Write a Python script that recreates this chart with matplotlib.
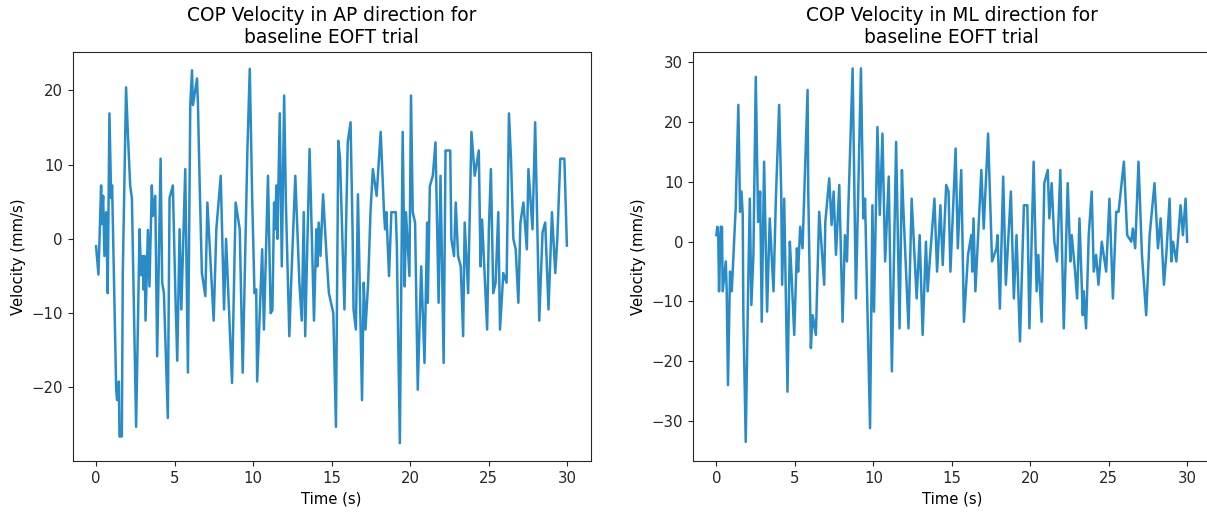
import matplotlib
matplotlib.use("Agg")
import matplotlib.pyplot as plt

# Velocidad del COP en direccion AP (puntos de giro)
t_ap = [0, 0.15, 0.32, 0.36, 0.45, 0.53, 0.64, 0.74, 0.85, 0.96, 1.02, 1.17, 1.28, 1.34, 1.45, 1.49,
        1.64, 1.70, 1.91, 2.02, 2.17, 2.28, 2.55, 2.77, 2.87, 2.98, 3.02, 3.09, 3.15, 3.30, 3.40, 3.55,
        3.62, 3.77, 3.89, 4.11, 4.21, 4.32, 4.57, 4.68, 4.89, 5.06, 5.17, 5.32, 5.43, 5.68, 5.85, 6.00,
        6.11, 6.17, 6.43, 6.49, 6.60, 6.74, 6.96, 7.09, 7.49, 7.66, 7.94, 8.15, 8.28, 8.66, 8.89, 9.15,
        9.34, 9.64, 9.79, 9.94, 10.09, 10.20, 10.26, 10.58, 10.69, 10.95, 11.12, 11.23, 11.34, 11.40,
        11.49, 11.55, 11.70, 11.83, 11.98, 12.09, 12.31, 12.41, 12.69, 12.95, 13.10, 13.23, 13.32, 13.60,
        13.88, 14.03, 14.09, 14.18, 14.29, 14.46, 14.68, 14.83, 15.11, 15.28, 15.43, 15.54, 15.82, 16.03,
        16.21, 16.34, 16.40, 16.55, 16.68, 16.94, 17.05, 17.16, 17.33, 17.48, 17.63, 17.87, 18.13, 18.34,
        18.41, 18.49, 18.66, 18.81, 19.09, 19.16, 19.20, 19.35, 19.53, 19.66, 19.74, 19.96, 20.06, 20.17,
        20.32, 20.49, 20.71, 20.92, 21.09, 21.13, 21.26, 21.45, 21.62, 21.82, 21.94, 22.14, 22.26, 22.56,
        22.63, 22.80, 22.91, 23.06, 23.23, 23.38, 23.48, 23.70, 23.91, 24.12, 24.38, 24.49, 24.59, 24.91,
        25.02, 25.15, 25.30, 25.45, 25.62, 25.73, 25.94, 26.15, 26.30, 26.43, 26.58, 26.73, 26.90, 27.03,
        27.22, 27.44, 27.54, 27.80, 27.97, 28.23, 28.44, 28.61, 28.82, 29.04, 29.25, 29.38, 29.57, 29.83,
        29.99]
v_ap = [-1.0, -4.8, 7.2, 2.0, 5.8, -2.3, 3.6, -7.3, 16.9, 5.5, 7.2, -8.6, -20.3, -21.7, -19.2, -26.6,
        -26.6, -4.8, 20.4, 14.4, 7.2, 5.5, -25.3, 1.3, -4.9, -2.3, -6.8, -2.3, -11.0, 1.2, -6.4, 7.2,
        3.1, 5.8, -15.8, 10.8, -5.9, -7.3, -24.1, 5.5, 7.2, -8.2, -16.4, 1.3, -9.5, 9.4, -18.0, 18.0,
        22.7, 18.0, 21.6, 18.0, 7.2, -4.6, -7.7, 4.9, -11.0, 1.3, 8.5, -9.5, 0.0, -19.4, 4.9, 1.3,
        -18.0, 12.1, 22.9, 5.8, -7.3, -6.8, -19.2, -1.4, -12.2, 8.5, -10.0, -9.6, 4.9, 1.3,
        7.2, 0.0, 16.9, -3.7, 19.3, 4.9, -13.1, -6.8, 8.5, -5.9, -11.0, 3.6, -13.1, 12.1,
        -11.0, 1.3, -3.7, 2.2, -2.3, 6.0, -2.3, -7.3, -10.0, -25.3, 13.2, 10.8, -9.5, 13.0,
        15.7, 0.9, -9.5, -12.2, 6.0, -21.7, -5.9, -12.2, -5.9, 3.6, 9.4, 5.8, 14.4, 3.6,
        1.3, 3.6, -5.0, 3.6, 3.6, -1.0, -7.3, -27.5, 14.4, -6.4, 3.6, -5.0, 19.3, 3.6,
        2.2, -20.3, -3.7, -16.7, 2.2, -8.6, 7.1, 8.5, 13.0, -8.6, 8.5, -16.7, 11.9, 11.9,
        0.0, -2.3, 4.9, -2.3, -3.7, -13.1, 2.2, -7.3, 14.4, 8.5, 11.9, -3.7, 2.6, -12.2,
        1.3, 9.4, -7.3, -5.9, 3.6, -12.2, -4.6, -5.9, 16.9, 10.8, 0.0, -1.4, -8.6, 2.2,
        4.9, -1.4, 9.4, 1.3, 15.7, -11.0, 0.9, 2.2, -9.5, 3.6, -4.6, 0.0, 10.8, 10.8,
        -0.9]

# Velocidad del COP en direccion ML
t_ml = [0, 0.06, 0.12, 0.17, 0.28, 0.36, 0.40, 0.60, 0.66, 0.74, 0.87, 0.98, 1.23, 1.40, 1.51, 1.60,
        1.68, 1.72, 1.87, 2.02, 2.13, 2.23, 2.36, 2.51, 2.66, 2.79, 2.89, 3.04, 3.23, 3.40, 3.64, 3.79,
        4.00, 4.13, 4.19, 4.32, 4.53, 4.68, 4.79, 4.96, 5.13, 5.21, 5.34, 5.49, 5.81, 5.85, 6.02, 6.13,
        6.34, 6.55, 6.87, 6.94, 7.19, 7.34, 7.47, 7.62, 7.83, 8.04, 8.19, 8.32, 8.40, 8.68, 8.89, 9.21,
        9.36, 9.47, 9.79, 9.94, 10.04, 10.26, 10.41, 10.58, 10.75, 10.98, 11.18, 11.45, 11.67, 11.82,
        11.92, 12.24, 12.44, 12.76, 12.95, 13.14, 13.35, 13.46, 13.59, 13.89, 14.06, 14.27, 14.42, 14.64,
        14.79, 14.91, 15.24, 15.38, 15.60, 15.77, 16.03, 16.24, 16.30, 16.38, 16.50, 16.88, 17.03, 17.31,
        17.56, 17.84, 17.91, 18.06, 18.27, 18.44, 18.76, 18.95, 19.12, 19.34, 19.59, 19.81, 19.94, 20.21,
        20.40, 20.51, 20.72, 20.89, 21.11, 21.21, 21.36, 21.53, 21.70, 21.91, 22.13, 22.38, 22.55, 22.64,
        22.85, 22.98, 23.13, 23.34, 23.40, 23.55, 23.72, 23.91, 24.04, 24.19, 24.34, 24.55, 24.83, 25.04,
        25.26, 25.47, 25.62, 25.96, 26.17, 26.43, 26.53, 26.68, 26.89, 27.11, 27.38, 27.60, 27.91, 28.13,
        28.30, 28.51, 28.66, 28.87, 28.98, 29.09, 29.30, 29.57, 29.72, 29.89, 29.99]
v_ml = [1.1, 2.5, 1.0, -8.3, 2.5, 2.5, -8.3, -3.3, -8.3, -24.0, -5.0, -8.3, 5.6, 22.9, 5.0, 8.4,
        4.5, -12.3, -33.5, -8.3, 7.2, -10.6, -2.2, 27.6, 3.3, 8.4, -13.4, 13.4, -11.7, 3.9, -8.3, 7.2,
        22.9, 8.4, -7.2, 7.2, -25.1, 0.0, -5.6, -15.6, -1.1, -5.0, 2.5, -1.1, 25.4, 8.9, -17.8, -12.3,
        -15.6, 5.0, -7.2, 3.3, 10.6, 2.8, 8.4, -2.2, 9.5, -13.4, 1.1, -3.3, 5.0, 29.0, -9.5, 29.0,
        3.9, 7.2, -31.2, 6.1, -11.7, 19.2, 4.5, 18.1, -3.3, 10.9, -21.7, 16.7, -14.5, 12.0,
        5.0, -14.5, 7.2, -9.5, 1.1, -15.6, 0.0, -8.3, -3.3, 7.2, -5.0, 6.1, -3.9, 9.5,
        8.4, -5.0, 15.6, -1.1, 12.0, -13.4, -2.2, 1.1, -5.0, 3.9, -8.3, 12.0, 2.2, 18.1,
        -3.3, -1.1, 1.1, -11.2, 10.9, -7.2, 8.4, -9.5, 1.1, -16.7, 6.1, 6.1, -14.5, 13.4,
        -8.3, -2.2, -13.4, 9.8, 12.0, 3.9, 9.8, 0.0, -3.3, 12.0, -14.5, 9.8, -3.3, 1.1,
        -5.0, -9.5, 3.9, -12.3, -8.3, -14.5, 1.1, 8.4, -5.0, -2.2, -7.2, 0.0, -5.0, 7.2,
        -9.5, 5.0, 5.0, 13.4, 1.1, 0.0, 2.2, -1.1, 13.4, -2.2, -12.3, 1.1, 9.8, -1.1,
        3.9, -7.2, -2.2, 7.2, -3.3, 0.0, -3.3, 6.1, 1.1, 7.2, 0.0]

titulos = ['COP Velocity in AP direction for\nbaseline EOFT trial',
           'COP Velocity in ML direction for\nbaseline EOFT trial']

fs = 10.7
fig = plt.figure(figsize=(12.07, 5.14), dpi=100)
ax1 = fig.add_axes([0.0601, 0.1031, 0.4292, 0.7963])
ax2 = fig.add_axes([0.5740, 0.1031, 0.4292, 0.7963])

color = '#2a8cc6'
ax1.plot(t_ap, v_ap, color=color, lw=1.8)
ax2.plot(t_ml, v_ml, color=color, lw=1.8)

ax1.set_ylim(-29.9, 25.2)
ax2.set_ylim(-36.7, 31.8)

for ax, titulo in zip([ax1, ax2], titulos):
    ax.set_xlim(-1.5, 31.5)
    ax.set_xticks([0, 5, 10, 15, 20, 25, 30])
    ax.set_title(titulo, fontsize=13.4)
    ax.set_xlabel('Time (s)', fontsize=fs)
    ax.set_ylabel('Velocity (mm/s)', fontsize=fs)
    ax.tick_params(labelsize=fs, colors='#262626')
    for sp in ax.spines.values():
        sp.set_color('#262626')

fig.savefig('out.png', dpi=100)
